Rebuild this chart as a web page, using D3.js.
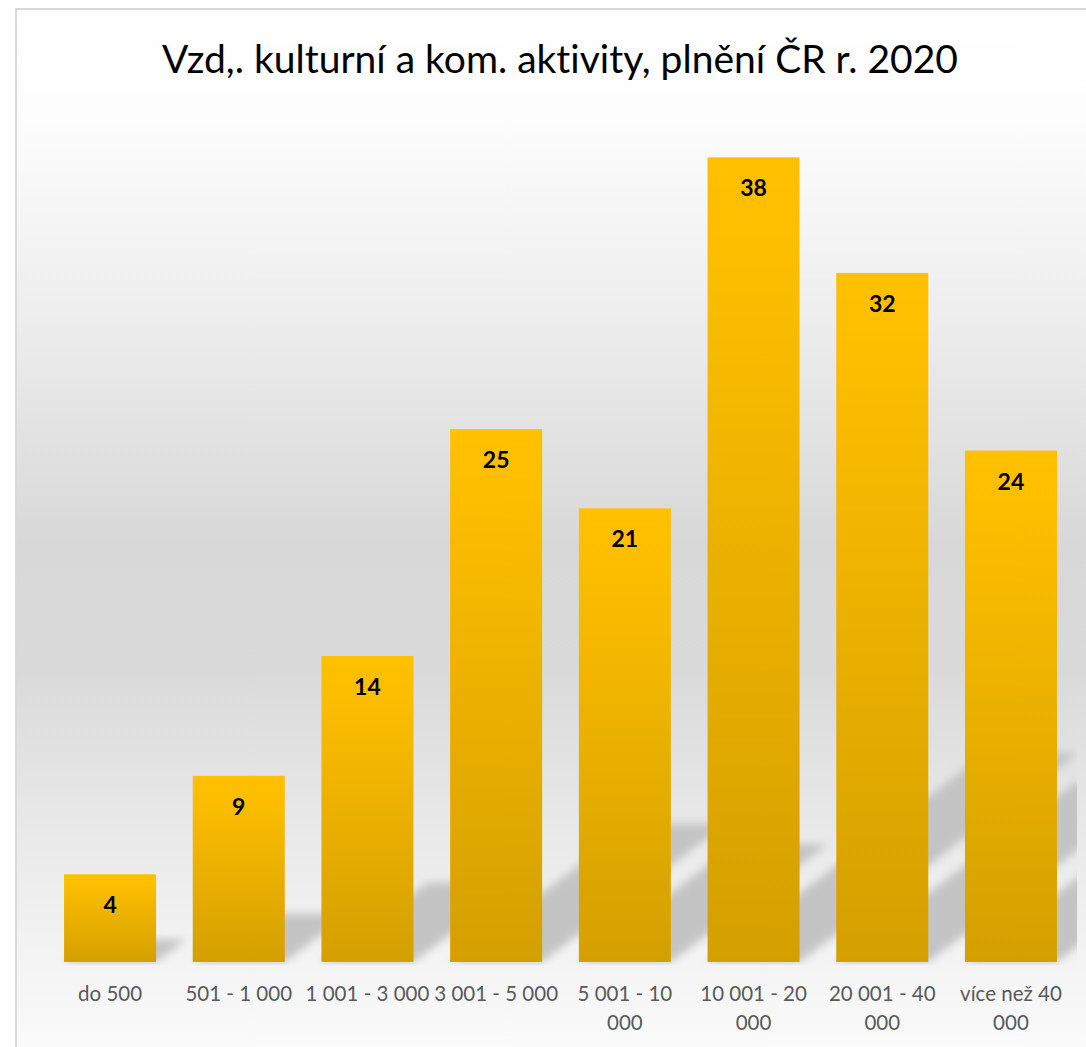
<!DOCTYPE html>
<html>
<head>
<meta charset="utf-8">
<script src="https://cdn.jsdelivr.net/npm/d3@7"></script>
<style>
  html, body { margin: 0; padding: 0; background: #ffffff; }
  svg { display: block; }
  text { font-variant-ligatures: none; }
</style>
</head>
<body>
<svg id="chart" width="1086" height="1047"></svg>
<script>
// Data
const titleText = "Vzd,. kulturní a kom. aktivity, plnění ČR r. 2020";
const categories = ["do 500", "501 - 1 000", "1 001 - 3 000", "3 001 - 5 000",
  "5 001 - 10 000", "10 001 - 20 000", "20 001 - 40 000", "více než 40 000"];
const values = [4.1, 8.7, 14.3, 24.9, 21.2, 37.6, 32.2, 23.9];

// Colors
const colors = {
  border: "#d9d9d9",
  barTop: "#ffc000",
  barBottom: "#d4a000",
  shadow: "#c4c4c4",
  label: "#000000",
  axisText: "#595959",
  title: "#000000"
};

const width = 1086;
const height = 1047;
const base = 962;

const svg = d3.select("#chart");
const defs = svg.append("defs");

// chart area background gradient (white -> gray -> white)
const bg = defs.append("linearGradient")
  .attr("id", "bg-grad")
  .attr("x1", 0).attr("y1", 0).attr("x2", 0).attr("y2", 1);
[[0, "#ffffff"], [0.1, "#fdfdfd"], [0.28, "#eeeeee"], [0.5, "#d8d8d8"],
 [0.62, "#dadada"], [0.8, "#ececec"], [1, "#fdfdfd"]].forEach(s => {
  bg.append("stop").attr("offset", s[0]).attr("stop-color", s[1]);
});

// bar gradient
const barGrad = defs.append("linearGradient")
  .attr("id", "bar-grad")
  .attr("x1", 0).attr("y1", 0).attr("x2", 0).attr("y2", 1);
barGrad.append("stop").attr("offset", 0).attr("stop-color", colors.barTop);
barGrad.append("stop").attr("offset", 0.12).attr("stop-color", "#fdbe00");
barGrad.append("stop").attr("offset", 1).attr("stop-color", colors.barBottom);

// blur for the perspective shadows
defs.append("filter")
  .attr("id", "blur")
  .attr("x", "-20%").attr("y", "-20%").attr("width", "140%").attr("height", "140%")
  .append("feGaussianBlur").attr("stdDeviation", 4);

defs.append("clipPath").attr("id", "plot-clip")
  .append("rect").attr("x", 40).attr("y", 0).attr("width", 1037).attr("height", base + 3);

// chart frame (runs off the bottom/right of the picture)
svg.append("rect")
  .attr("x", 16).attr("y", 9)
  .attr("width", 1090).attr("height", 1070)
  .attr("fill", "url(#bg-grad)")
  .attr("stroke", colors.border)
  .attr("stroke-width", 2);

// scales
const x = d3.scaleBand()
  .domain(categories)
  .range([45.7, 1075.3])
  .paddingInner(0.285)
  .paddingOuter(0.1425);

const y = d3.scaleLinear()
  .domain([0, 40])
  .range([base, 106]);

const data = categories.map((c, i) => ({ cat: c, value: values[i] }));

// shadows: skewed copy of each bar falling to the upper right
const shadowLen = 0.26;
const shadowSlope = 0.75;
svg.append("g")
  .attr("clip-path", "url(#plot-clip)")
  .selectAll("path")
  .data(data)
  .enter().append("path")
  .attr("d", d => {
    const x0 = x(d.cat);
    const x1 = x0 + x.bandwidth();
    const dy = (base - y(d.value)) * shadowLen;
    const dx = dy / shadowSlope;
    return `M${x0},${base}L${x1},${base}L${x1 + dx},${base - dy}L${x0 + dx},${base - dy}Z`;
  })
  .attr("fill", colors.shadow)
  .attr("filter", "url(#blur)");

// bars
svg.append("g")
  .selectAll("rect")
  .data(data)
  .enter().append("rect")
  .attr("x", d => x(d.cat))
  .attr("y", d => y(d.value))
  .attr("width", x.bandwidth())
  .attr("height", d => base - y(d.value))
  .attr("fill", "url(#bar-grad)");

// value labels
svg.append("g")
  .selectAll("text")
  .data(data)
  .enter().append("text")
  .attr("x", d => x(d.cat) + x.bandwidth() / 2)
  .attr("y", d => y(d.value) + 39)
  .attr("text-anchor", "middle")
  .attr("font-family", "Lato, 'Open Sans', sans-serif")
  .attr("font-weight", "bold")
  .attr("font-size", 23)
  .attr("fill", colors.label)
  .text(d => d3.format(".0f")(d.value));

// category axis (no line, no ticks)
const xAxis = svg.append("g")
  .attr("transform", `translate(0,${base})`)
  .call(d3.axisBottom(x).tickSize(0).tickPadding(24));
xAxis.select(".domain").remove();
xAxis.selectAll("text")
  .attr("font-family", "Lato, 'Open Sans', sans-serif")
  .attr("font-size", 20.5)
  .attr("fill", colors.axisText)
  .call(wrap, 128);

// wrap long category names onto two lines
function wrap(texts, maxWidth) {
  texts.each(function() {
    const text = d3.select(this);
    const words = text.text().split(" ");
    const y0 = text.attr("y");
    text.text(null);
    let line = [];
    let lineNo = 0;
    let tspan = text.append("tspan").attr("x", 0).attr("y", y0).attr("dy", "0.71em");
    words.forEach(w => {
      line.push(w);
      tspan.text(line.join(" "));
      if (tspan.node().getComputedTextLength() > maxWidth && line.length > 1) {
        line.pop();
        tspan.text(line.join(" "));
        line = [w];
        lineNo++;
        tspan = text.append("tspan").attr("x", 0).attr("y", y0)
          .attr("dy", (0.71 + lineNo * 1.42) + "em").text(w);
      }
    });
  });
}

// title
svg.append("text")
  .attr("x", 560)
  .attr("y", 73)
  .attr("text-anchor", "middle")
  .attr("font-family", "Lato, 'Open Sans', sans-serif")
  .attr("font-size", 39)
  .attr("fill", colors.title)
  .text(titleText);
</script>
</body>
</html>
